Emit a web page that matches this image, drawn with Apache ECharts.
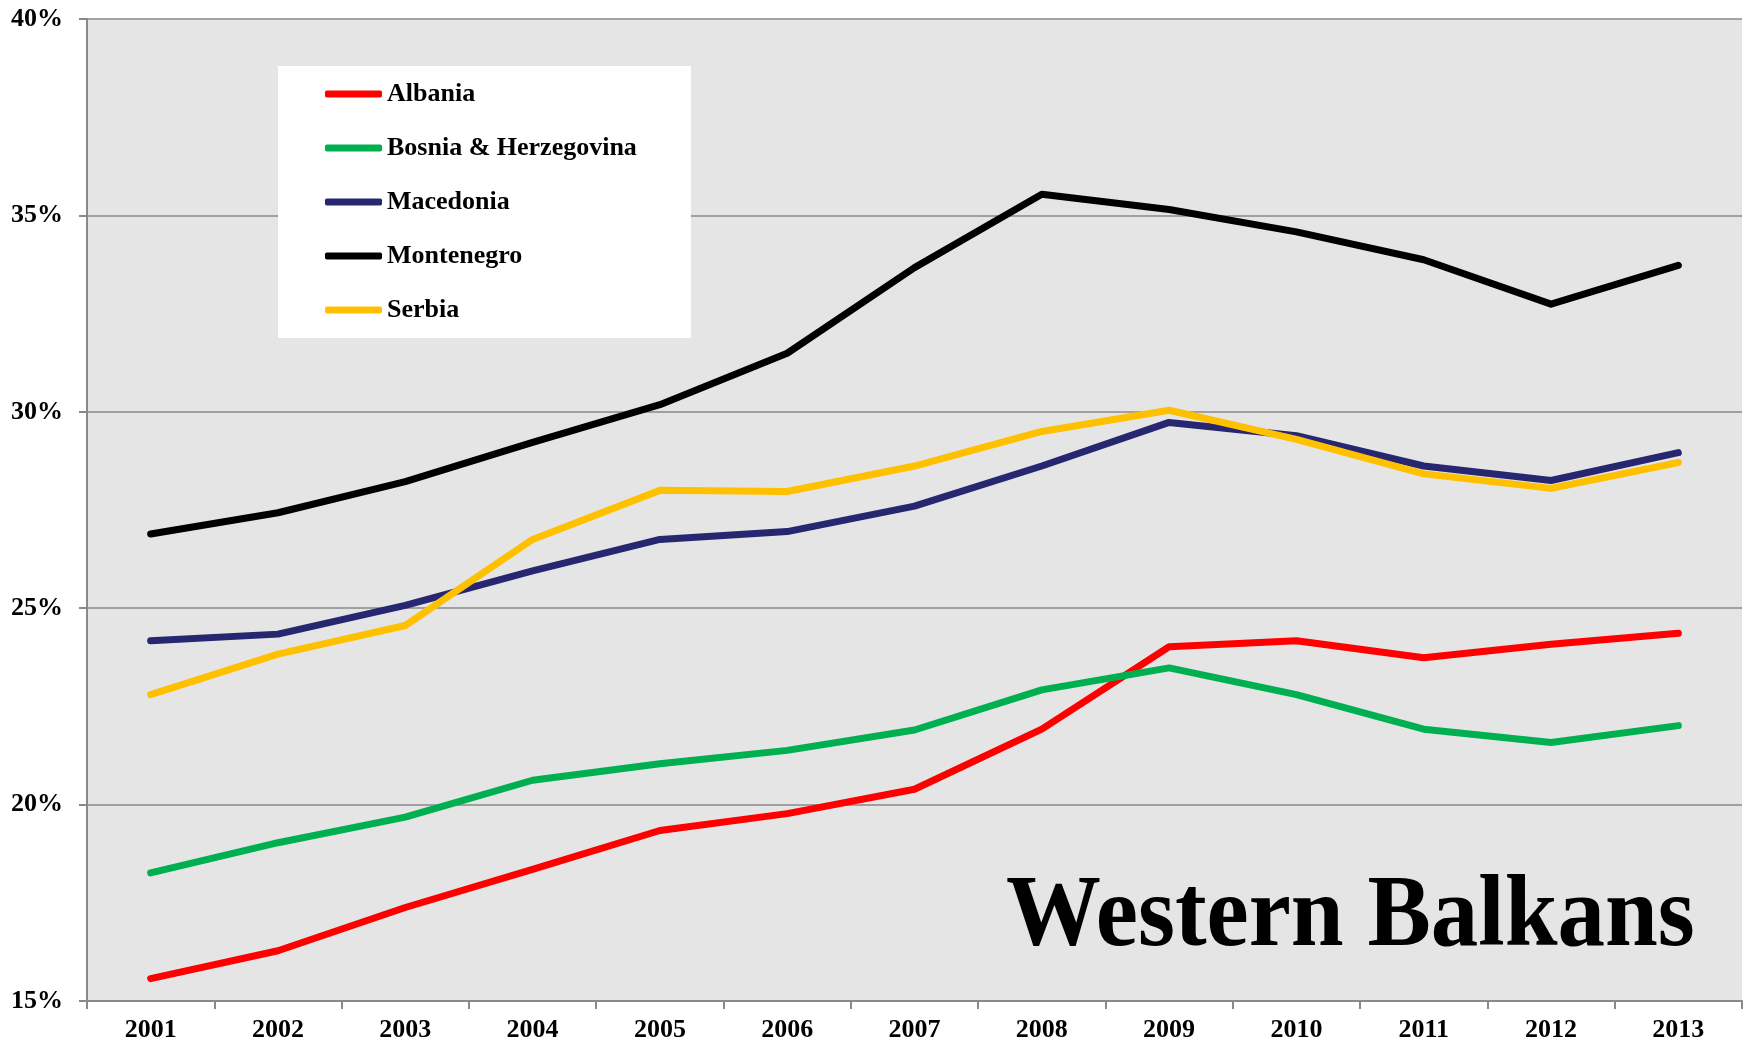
<!DOCTYPE html>
<html lang="en" style="background: #FFFFFF;height: 100%">
<head>
  <meta charset="utf-8" />
  <title>Western Balkans</title>
  <script src="https://cdn.jsdelivr.net/npm/echarts@6/dist/echarts.min.js"></script>
</head>
<body style="margin: 0;height: 100%">
<div id="chart" style="width: 1748px;height: 1048px"></div>
<script>
  // years on the x axis
  const years = ['2001', '2002', '2003', '2004', '2005', '2006', '2007', '2008', '2009', '2010', '2011', '2012', '2013'];
  // values in percent
  const albania    = [15.57, 16.28, 17.38, 18.35, 19.34, 19.77, 20.39, 21.92, 24.02, 24.17, 23.74, 24.08, 24.36];
  const bosnia     = [18.26, 19.03, 19.68, 20.62, 21.04, 21.38, 21.90, 22.92, 23.48, 22.80, 21.92, 21.58, 22.01];
  const macedonia  = [24.17, 24.34, 25.07, 25.95, 26.75, 26.95, 27.60, 28.62, 29.73, 29.39, 28.62, 28.25, 28.96];
  const montenegro = [26.89, 27.43, 28.22, 29.22, 30.18, 31.49, 33.67, 35.54, 35.15, 34.58, 33.87, 32.74, 33.73];
  const serbia     = [22.80, 23.83, 24.56, 26.75, 28.00, 27.97, 28.62, 29.50, 30.04, 29.30, 28.42, 28.05, 28.71];

  const serif = '"Liberation Serif", "Times New Roman", serif';
  const grey = '#898989';

  const chart = echarts.init(document.getElementById('chart'));

  function line(name, data, color) {
    return {
      name: name,
      type: 'line',
      data: data,
      symbol: 'none',
      color: color,
      lineStyle: { width: 7, color: color, cap: 'round', join: 'round' }
    };
  }

  chart.setOption({
    animation: false,
    grid: {
      left: 87, top: 19, right: 6, bottom: 47,
      show: true, backgroundColor: '#e5e5e5', borderWidth: 0
    },
    legend: {
      left: 278, top: 66,
      orient: 'vertical',
      backgroundColor: '#ffffff',
      padding: [15, 54, 15, 47],
      itemWidth: 57, itemHeight: 7,
      itemGap: 28,
      icon: 'roundRect',
      textStyle: { fontFamily: serif, fontWeight: 'bold', fontSize: 26, color: '#000' }
    },
    xAxis: {
      type: 'category',
      data: years,
      boundaryGap: true,
      axisLine: { lineStyle: { color: grey, width: 2 } },
      axisTick: { show: true, length: 8, lineStyle: { color: grey, width: 2 } },
      axisLabel: { fontFamily: serif, fontWeight: 'bold', fontSize: 26, color: '#000', margin: 16 }
    },
    yAxis: {
      type: 'value',
      min: 15, max: 40, interval: 5,
      axisLine: { show: true, lineStyle: { color: grey, width: 2 } },
      axisTick: { show: true, length: 8, lineStyle: { color: grey, width: 2 } },
      splitLine: { lineStyle: { color: grey, width: 1.5 } },
      axisLabel: {
        formatter: '{value}%',
        fontFamily: serif, fontWeight: 'bold', fontSize: 26, color: '#000', margin: 24
      }
    },
    graphic: [{
      type: 'text',
      x: 1006, y: 970,
      scaleY: 1.08,
      style: {
        text: 'Western Balkans',
        font: 'bold 95px ' + serif,
        fill: '#000',
        textAlign: 'left',
        textVerticalAlign: 'bottom'
      }
    }],
    series: [
      line('Albania', albania, '#ff0000'),
      line('Bosnia & Herzegovina', bosnia, '#00b050'),
      line('Macedonia', macedonia, '#262671'),
      line('Montenegro', montenegro, '#000000'),
      line('Serbia', serbia, '#ffc000')
    ]
  });

  window.addEventListener('resize', () => chart.resize());
</script>
</body>
</html>
